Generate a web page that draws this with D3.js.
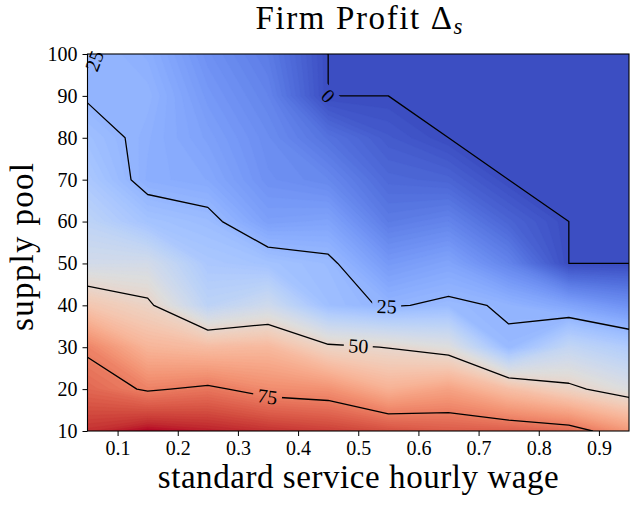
<!DOCTYPE html>
<html>
<head>
<meta charset="utf-8">
<script src="https://cdn.jsdelivr.net/npm/d3@7"></script>
<style>
  body { margin: 0; background: #fff; }
  text { font-family: "Liberation Serif", "Times New Roman", serif; fill: #000; }
</style>
</head>
<body>
<svg id="chart" width="639" height="505"></svg>
<script>
// grid axes
const wages = [0.05, 0.15, 0.25, 0.35, 0.45, 0.55, 0.65, 0.75, 0.85, 0.95];
const pools = [10, 20, 30, 40, 50, 60, 70, 80, 90, 100];

// firm profit delta, one row per supply pool (10 at the top of the list), one column per wage
const profit = [
    [88.0, 92.0, 90.0, 88.0, 86.0, 83.3, 81.3, 80.7, 78.7, 69.3],
    [79.1, 74.1, 76.5, 72.1, 70.9, 63.0, 67.0, 58.9, 52.0, 45.2],
    [73.7, 62.0, 59.8, 61.0, 51.7, 49.7, 46.0, 26.0, 37.7, 32.5],
    [56.8, 51.6, 35.9, 40.9, 27.7, 24.2, 26.4, 24.2, 19.8, 15.0],
    [42.0, 42.3, 31.0, 29.0, 26.5, 17.1, 19.9, 12.0, 0.0, 0.0],
    [36.0, 29.2, 27.0, 18.7, 19.7, 10.0, 12.0, 5.0, 0.0, 0.0],
    [31.0, 22.7, 21.1, 15.0, 13.0, 6.0, 5.0, 0.0, 0.0, 0.0],
    [28.0, 23.2, 19.0, 14.0, 8.0, 3.0, 0.0, 0.0, 0.0, 0.0],
    [24.4, 24.5, 17.0, 12.0, 0.0, 0.0, 0.0, 0.0, 0.0, 0.0],
    [25.5, 22.7, 15.0, 10.0, 0.0, 0.0, 0.0, 0.0, 0.0, 0.0]
];

const lineLevels = [0, 25, 50, 75];
// where the inline labels sit (wage, pool)
const labelSpots = [
    { level: 0, wage: 0.45, pool: 90 },
    { level: 25, wage: 0.062, pool: 98.3 },
    { level: 25, wage: 0.547, pool: 39.6 },
    { level: 50, wage: 0.50, pool: 30.1 },
    { level: 75, wage: 0.349, pool: 18.1 }
];

const xTicks = [0.1, 0.2, 0.3, 0.4, 0.5, 0.6, 0.7, 0.8, 0.9];
const yTicks = [10, 20, 30, 40, 50, 60, 70, 80, 90, 100];

// matplotlib coolwarm (Moreland table)
const COOLWARM = [
    [59, 76, 192], [68, 90, 204], [77, 104, 215], [87, 117, 225], [98, 130, 234],
    [108, 142, 241], [119, 154, 247], [130, 165, 251], [141, 176, 254], [152, 185, 255],
    [163, 194, 255], [174, 201, 253], [184, 208, 249], [194, 213, 244], [204, 217, 238],
    [213, 219, 230], [221, 221, 221], [229, 216, 209], [236, 211, 197], [241, 204, 185],
    [245, 196, 173], [247, 187, 160], [247, 177, 148], [247, 166, 135], [244, 154, 123],
    [241, 141, 111], [236, 127, 99], [229, 112, 88], [222, 96, 77], [213, 80, 66],
    [203, 62, 56], [192, 40, 47], [180, 4, 38]
].map(c => d3.rgb(c[0], c[1], c[2]));
const coolwarm = d3.piecewise(d3.interpolateRgb, COOLWARM);

const svg = d3.select('#chart');
const m = { l: 87.5, r: 629, t: 54, b: 431 };

const x = d3.scaleLinear().domain([wages[0], wages[wages.length - 1]]).range([m.l, m.r]);
const y = d3.scaleLinear().domain([pools[0], pools[pools.length - 1]]).range([m.b, m.t]);

const nx = wages.length, ny = pools.length;
const values = profit.flat();
const vmin = d3.min(values), vmax = d3.max(values);

// d3.contours puts value i at grid coordinate i + 0.5
const gx = g => x(wages[0] + (g - 0.5) * (wages[1] - wages[0]));
const gy = g => y(pools[0] + (g - 0.5) * (pools[1] - pools[0]));
const ringPath = ring => 'M' + ring.map(p => `${gx(p[0]).toFixed(2)},${gy(p[1]).toFixed(2)}`).join('L') + 'Z';
const shapePath = c => c.coordinates.map(poly => poly.map(ringPath).join('')).join('');

const defs = svg.append('defs');
defs.append('clipPath').attr('id', 'plotclip')
    .append('rect')
    .attr('x', m.l).attr('y', m.t)
    .attr('width', m.r - m.l).attr('height', m.b - m.t);

// filled bands
const nBands = 100;
const step = (vmax - vmin) / nBands;
const bandThresholds = d3.range(nBands).map(k => vmin + k * step);
const bands = d3.contours().size([nx, ny]).thresholds(bandThresholds)(values);

svg.append('g')
    .attr('clip-path', 'url(#plotclip)')
    .selectAll('path')
    .data(bands)
    .join('path')
    .attr('d', shapePath)
    .attr('fill', (d, k) => coolwarm((k + 0.5) / nBands))
    .attr('stroke', (d, k) => coolwarm((k + 0.5) / nBands))
    .attr('stroke-width', 0.4);

// contour lines (level 0 traced just above zero, as matplotlib does)
const contourGen = d3.contours().size([nx, ny]);
const lines = lineLevels.map(level => ({
    level,
    shape: contourGen.contour(values, level === 0 ? 1e-9 : level)
}));

// screen space rings for label placement
function screenRings(shape) {
    const out = [];
    shape.coordinates.forEach(poly => poly.forEach(ring => {
        out.push(ring.map(p => [gx(p[0]), gy(p[1])]));
    }));
    return out;
}

function placeLabel(spot) {
    const rings = screenRings(lines.find(l => l.level === spot.level).shape);
    const ax = x(spot.wage), ay = y(spot.pool);
    let best = { d: Infinity };
    rings.forEach((ring, r) => {
        for (let i = 0; i < ring.length - 1; i++) {
            const [x0, y0] = ring[i], [x1, y1] = ring[i + 1];
            const dx = x1 - x0, dy = y1 - y0;
            const len2 = dx * dx + dy * dy || 1;
            let t = ((ax - x0) * dx + (ay - y0) * dy) / len2;
            t = Math.max(0, Math.min(1, t));
            const px = x0 + t * dx, py = y0 + t * dy;
            const d = Math.hypot(px - ax, py - ay);
            if (d < best.d) best = { d, r, i, t, px, py };
        }
    });
    const ring = rings[best.r];
    const cum = [0];
    for (let i = 1; i < ring.length; i++) {
        cum.push(cum[i - 1] + Math.hypot(ring[i][0] - ring[i - 1][0], ring[i][1] - ring[i - 1][1]));
    }
    const total = cum[cum.length - 1];
    const s0 = cum[best.i] + best.t * (cum[best.i + 1] - cum[best.i]);
    const at = s => {
        s = ((s % total) + total) % total;
        let i = d3.bisectRight(cum, s) - 1;
        i = Math.min(i, ring.length - 2);
        const f = (s - cum[i]) / ((cum[i + 1] - cum[i]) || 1);
        return [ring[i][0] + f * (ring[i + 1][0] - ring[i][0]), ring[i][1] + f * (ring[i + 1][1] - ring[i][1])];
    };
    const a = at(s0 - 12), b = at(s0 + 12);
    let angle = Math.atan2(b[1] - a[1], b[0] - a[0]) * 180 / Math.PI;
    if (angle > 90) angle -= 180;
    if (angle < -90) angle += 180;
    return { x: best.px, y: best.py, angle, text: String(spot.level) };
}

const labels = labelSpots.map(placeLabel);

const mask = defs.append('mask').attr('id', 'labelmask').attr('maskUnits', 'userSpaceOnUse')
    .attr('x', 0).attr('y', 0).attr('width', 639).attr('height', 505);
mask.append('rect').attr('x', 0).attr('y', 0).attr('width', 639).attr('height', 505).attr('fill', '#fff');

const lineLayer = svg.append('g').attr('clip-path', 'url(#plotclip)')
    .append('g').attr('mask', 'url(#labelmask)');
lineLayer.selectAll('path')
    .data(lines)
    .join('path')
    .attr('d', d => shapePath(d.shape))
    .attr('fill', 'none')
    .attr('stroke', '#000')
    .attr('stroke-width', 1.3)
    .attr('stroke-linejoin', 'round');

const labelText = svg.append('g').selectAll('text')
    .data(labels)
    .join('text')
    .attr('transform', d => `translate(${d.x},${d.y}) rotate(${d.angle})`)
    .attr('text-anchor', 'middle')
    .attr('dy', '0.34em')
    .style('font-size', '20px')
    .text(d => d.text);

labelText.each(function (d) {
    const w = this.getComputedTextLength() + 9;
    mask.append('rect')
        .attr('x', -w / 2).attr('y', -8)
        .attr('width', w).attr('height', 16)
        .attr('fill', '#000')
        .attr('transform', `translate(${d.x},${d.y}) rotate(${d.angle})`);
});

// axes
const xAxis = svg.append('g')
    .attr('transform', `translate(0,${m.b})`)
    .call(d3.axisBottom(x).tickValues(xTicks).tickSize(5).tickPadding(5).tickFormat(d3.format('.1f')));
const yAxis = svg.append('g')
    .attr('transform', `translate(${m.l},0)`)
    .call(d3.axisLeft(y).tickValues(yTicks).tickSize(5).tickPadding(5).tickFormat(d3.format('d')));

[xAxis, yAxis].forEach(ax => {
    ax.attr('font-family', null).attr('font-size', null);
    ax.select('.domain').remove();
    ax.selectAll('.tick line').attr('stroke', '#000').attr('stroke-width', 1);
    ax.selectAll('.tick text').style('font-size', '20px').attr('fill', '#000');
});

svg.append('rect')
    .attr('x', m.l).attr('y', m.t)
    .attr('width', m.r - m.l).attr('height', m.b - m.t)
    .attr('fill', 'none')
    .attr('stroke', '#000')
    .attr('stroke-width', 1.1);

// titles
const title = svg.append('text')
    .attr('x', 359).attr('y', 29)
    .attr('text-anchor', 'middle')
    .attr('textLength', 207).attr('lengthAdjust', 'spacing')
    .style('font-size', '33px');
title.append('tspan').text('Firm Profit \u0394');
title.append('tspan').attr('dy', 5).style('font-size', '23px').style('font-style', 'italic').text('s');

svg.append('text')
    .attr('x', (m.l + m.r) / 2).attr('y', 488)
    .attr('text-anchor', 'middle')
    .attr('textLength', 401).attr('lengthAdjust', 'spacing')
    .style('font-size', '33px')
    .text('standard service hourly wage');

svg.append('text')
    .attr('transform', `translate(33,${247}) rotate(-90)`)
    .attr('text-anchor', 'middle')
    .attr('textLength', 168).attr('lengthAdjust', 'spacing')
    .style('font-size', '33px')
    .text('supply pool');
</script>
</body>
</html>
